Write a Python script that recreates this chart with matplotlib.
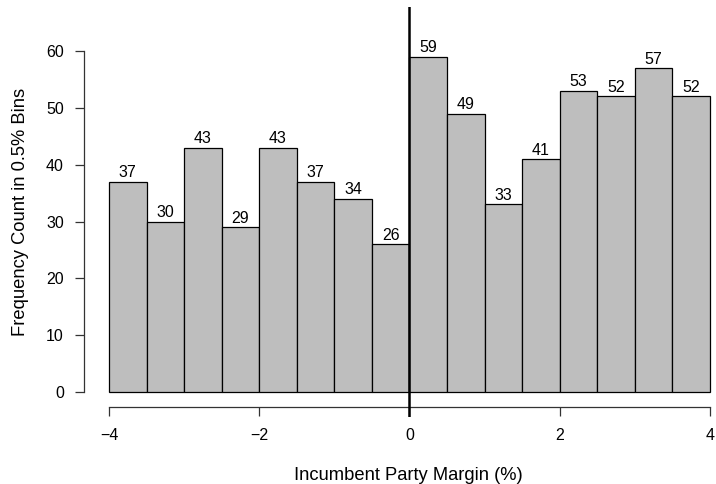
import matplotlib
matplotlib.use("Agg")
import matplotlib.pyplot as plt
import numpy as np

bin_edges = [-4.0, -3.5, -3.0, -2.5, -2.0, -1.5, -1.0, -0.5, 0.0,
             0.5, 1.0, 1.5, 2.0, 2.5, 3.0, 3.5, 4.0]
counts = [37, 30, 43, 29, 43, 37, 34, 26, 59, 49, 33, 41, 53, 52, 57, 52]
xticks = [-4, -2, 0, 2, 4]
xtick_labels = ["\u22124", "\u22122", "0", "2", "4"]
yticks = [0, 10, 20, 30, 40, 50, 60]

plt.rcParams['font.family'] = ['Liberation Sans', 'DejaVu Sans']

W, H = 716, 484
fig = plt.figure(figsize=(W / 100, H / 100), dpi=100)

# pixel geometry
px_left, px_right = 84, 716
py_top, py_bottom = 7, 417
ax = fig.add_axes([px_left / W, (H - py_bottom) / H,
                   (px_right - px_left) / W, (py_bottom - py_top) / H])

# data<->pixel mapping
x0px, xs = 109, 75.1
y0px, ys = 392, 5.683
ax.set_xlim(-4 + (px_left - x0px) / xs, -4 + (px_right - x0px) / xs)
ax.set_ylim((y0px - py_bottom) / ys, (y0px - py_top) / ys)

lefts = np.array(bin_edges[:-1])
widths = np.diff(bin_edges)
ax.bar(lefts, counts, width=widths, align='edge', color='#BEBEBE',
       edgecolor='black', linewidth=0.9, zorder=2)

for l, w, c in zip(lefts, widths, counts):
    ax.annotate(str(c), (l + w / 2, c), xytext=(0, 3.2), textcoords='offset points',
                ha='center', va='baseline', fontsize=11.5)

ax.axvline(0, color='black', linewidth=1.8, zorder=3)

for s in ['top', 'right']:
    ax.spines[s].set_visible(False)
ax.spines['left'].set_bounds(0, 60)
ax.spines['left'].set_color('#333333')
ax.spines['bottom'].set_position(('data', (y0px - 407) / ys))
ax.spines['bottom'].set_bounds(-4, 4)
ax.spines['bottom'].set_color('#333333')
for s in ['left', 'bottom']:
    ax.spines[s].set_linewidth(0.9)

ax.set_xticks(xticks)
ax.set_xticklabels(xtick_labels)
ax.set_yticks(yticks)
ax.tick_params(axis='both', length=6.5, width=0.9, color='#333333', labelsize=11.5)
ax.tick_params(axis='y', pad=8)
ax.tick_params(axis='x', pad=8.5)

fig.text(408.5 / W, 1 - 480 / H, "Incumbent Party Margin (%)", ha='center', va='baseline',
         fontsize=13.25)
fig.text(25 / W, 1 - 212 / H, "Frequency Count in 0.5% Bins", ha='center', va='baseline',
         rotation=90, rotation_mode='anchor', fontsize=13.25)

fig.savefig("out.png", dpi=100)
